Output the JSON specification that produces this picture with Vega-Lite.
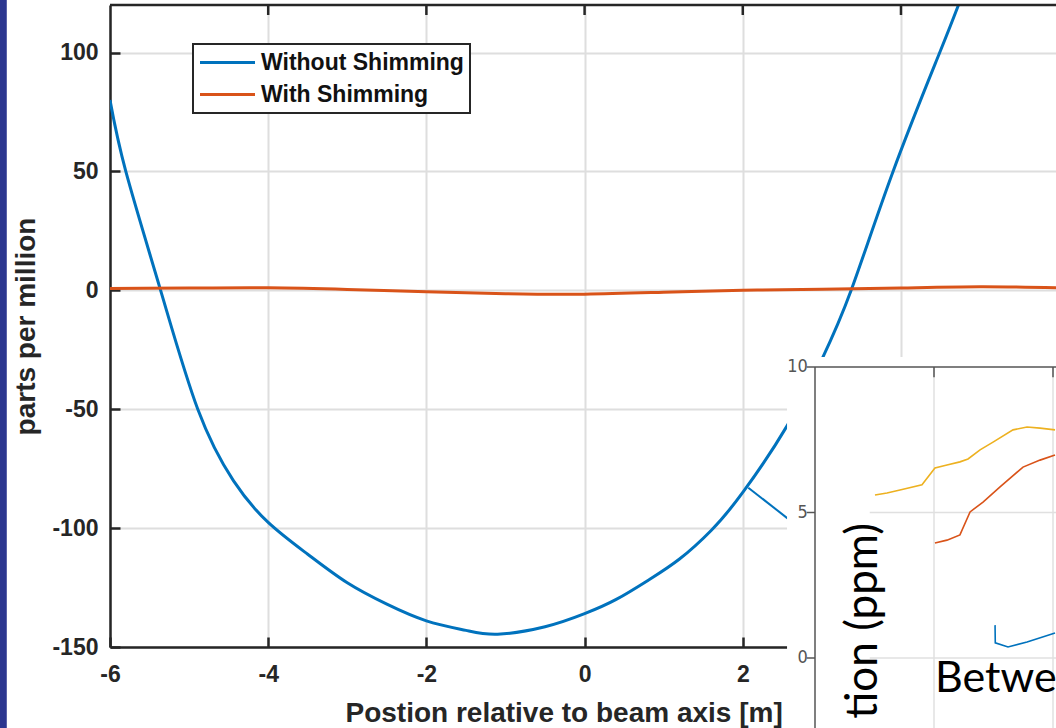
{
  "$schema": "https://vega.github.io/schema/vega-lite/v6.json",
  "width": 946,
  "height": 642,
  "autosize": {"type": "none"},
  "padding": {"left": 110, "top": 5, "right": 0, "bottom": 81},
  "background": "white",
  "config": {
    "view": {"stroke": null},
    "axis": {
      "labelFont": "Liberation Sans",
      "labelFontWeight": "bold",
      "labelFontSize": 23,
      "labelColor": "#262626",
      "labelExpr": "'' + datum.value",
      "titleFont": "Liberation Sans",
      "titleFontWeight": "bold",
      "titleFontSize": 28,
      "titleColor": "#262626",
      "domainColor": "#262626",
      "domainWidth": 2.5,
      "tickColor": "#262626",
      "tickWidth": 2.5,
      "tickSize": -10,
      "gridColor": "#dedede",
      "gridWidth": 2,
      "labelFlush": false,
      "labelOverlap": false
    },
    "legend": {
      "orient": "none",
      "legendX": 83,
      "legendY": 39,
      "strokeColor": "#262626",
      "strokeWidth": 2,
      "fillColor": "white",
      "padding": 6,
      "symbolType": "M-2.5,0H2.5",
      "symbolSize": 484,
      "symbolOffset": 16,
      "symbolStrokeWidth": 3,
      "labelFont": "Liberation Sans",
      "labelFontWeight": "bold",
      "labelFontSize": 23,
      "labelColor": "#111111",
      "labelOffset": 21,
      "labelLimit": 0,
      "rowPadding": 7
    }
  },
  "datasets": {
    "main": [
      {"x": -6, "ppm": 80, "series": "Without Shimming"},
      {"x": -5.8, "ppm": 50, "series": "Without Shimming"},
      {"x": -5.36, "ppm": 0, "series": "Without Shimming"},
      {"x": -4.89, "ppm": -50, "series": "Without Shimming"},
      {"x": -4.44, "ppm": -80, "series": "Without Shimming"},
      {"x": -4, "ppm": -97.6, "series": "Without Shimming"},
      {"x": -3.5, "ppm": -111, "series": "Without Shimming"},
      {"x": -3, "ppm": -123, "series": "Without Shimming"},
      {"x": -2.5, "ppm": -132, "series": "Without Shimming"},
      {"x": -2, "ppm": -139, "series": "Without Shimming"},
      {"x": -1.5, "ppm": -143, "series": "Without Shimming"},
      {"x": -1.1, "ppm": -144.6, "series": "Without Shimming"},
      {"x": -0.5, "ppm": -141.5, "series": "Without Shimming"},
      {"x": 0, "ppm": -136, "series": "Without Shimming"},
      {"x": 0.4, "ppm": -130, "series": "Without Shimming"},
      {"x": 0.82, "ppm": -121.6, "series": "Without Shimming"},
      {"x": 1.2, "ppm": -113, "series": "Without Shimming"},
      {"x": 1.6, "ppm": -101, "series": "Without Shimming"},
      {"x": 2, "ppm": -85, "series": "Without Shimming"},
      {"x": 2.56, "ppm": -57, "series": "Without Shimming"},
      {"x": 3.0, "ppm": -29, "series": "Without Shimming"},
      {"x": 3.37, "ppm": 0, "series": "Without Shimming"},
      {"x": 3.9, "ppm": 50, "series": "Without Shimming"},
      {"x": 4.49, "ppm": 100, "series": "Without Shimming"},
      {"x": 4.75, "ppm": 122, "series": "Without Shimming"},
      {"x": -6, "ppm": 0.8, "series": "With Shimming"},
      {"x": -5, "ppm": 1.0, "series": "With Shimming"},
      {"x": -4, "ppm": 1.1, "series": "With Shimming"},
      {"x": -3, "ppm": 0.4, "series": "With Shimming"},
      {"x": -2, "ppm": -0.6, "series": "With Shimming"},
      {"x": -1, "ppm": -1.4, "series": "With Shimming"},
      {"x": 0, "ppm": -1.6, "series": "With Shimming"},
      {"x": 1, "ppm": -0.8, "series": "With Shimming"},
      {"x": 2, "ppm": 0, "series": "With Shimming"},
      {"x": 3, "ppm": 0.5, "series": "With Shimming"},
      {"x": 4, "ppm": 1.0, "series": "With Shimming"},
      {"x": 5, "ppm": 1.5, "series": "With Shimming"},
      {"x": 5.96, "ppm": 1.1, "series": "With Shimming"}
    ],
    "xticks": [{"x": -4}, {"x": -2}, {"x": 0}, {"x": 2}, {"x": 4}],
    "connector": [{"x": 2.07, "ppm": -83}, {"x": 2.57, "ppm": -96}],
    "inset": [
      {"u": 0.504, "v": 5.60, "series": "yellow", "o": 1},
      {"u": 0.605, "v": 5.67, "series": "yellow", "o": 2},
      {"u": 0.714, "v": 5.77, "series": "yellow", "o": 3},
      {"u": 0.899, "v": 5.95, "series": "yellow", "o": 4},
      {"u": 1.008, "v": 6.53, "series": "yellow", "o": 5},
      {"u": 1.109, "v": 6.63, "series": "yellow", "o": 6},
      {"u": 1.218, "v": 6.74, "series": "yellow", "o": 7},
      {"u": 1.286, "v": 6.84, "series": "yellow", "o": 8},
      {"u": 1.387, "v": 7.15, "series": "yellow", "o": 9},
      {"u": 1.496, "v": 7.42, "series": "yellow", "o": 10},
      {"u": 1.664, "v": 7.84, "series": "yellow", "o": 11},
      {"u": 1.782, "v": 7.94, "series": "yellow", "o": 12},
      {"u": 1.891, "v": 7.90, "series": "yellow", "o": 13},
      {"u": 2.017, "v": 7.84, "series": "yellow", "o": 14},
      {"u": 1.008, "v": 3.95, "series": "orange", "o": 1},
      {"u": 1.109, "v": 4.05, "series": "orange", "o": 2},
      {"u": 1.218, "v": 4.23, "series": "orange", "o": 3},
      {"u": 1.303, "v": 5.02, "series": "orange", "o": 4},
      {"u": 1.412, "v": 5.36, "series": "orange", "o": 5},
      {"u": 1.555, "v": 5.88, "series": "orange", "o": 6},
      {"u": 1.748, "v": 6.56, "series": "orange", "o": 7},
      {"u": 1.891, "v": 6.80, "series": "orange", "o": 8},
      {"u": 2.017, "v": 6.98, "series": "orange", "o": 9},
      {"u": 1.513, "v": 1.13, "series": "blue", "o": 1},
      {"u": 1.515, "v": 0.52, "series": "blue", "o": 2},
      {"u": 1.622, "v": 0.38, "series": "blue", "o": 3},
      {"u": 1.782, "v": 0.55, "series": "blue", "o": 4},
      {"u": 2.017, "v": 0.86, "series": "blue", "o": 5}
    ],
    "insetTicks": [{"v": 0, "label": "0"}, {"v": 5, "label": "5"}, {"v": 10, "label": "10"}],
    "insetXTicks": [{"u": 1}, {"u": 2}]
  },
  "layer": [
    {
      "layer": [
        {
          "data": {"values": [{}]},
          "mark": {"type": "rect", "fill": "#2B368F"},
          "encoding": {
            "x": {"datum": -7.6, "type": "quantitative"},
            "x2": {"datum": -7.305},
            "y": {"datum": -260, "type": "quantitative"},
            "y2": {"datum": 200}
          }
        },
        {
          "data": {"name": "main"},
          "mark": {"type": "line", "strokeWidth": 3, "clip": true, "interpolate": "natural"},
          "encoding": {
            "x": {
              "field": "x", "type": "quantitative",
              "scale": {"domain": [-6, 5.96], "nice": false, "zero": false},
              "axis": {
                "values": [-6, -4, -2, 0, 2, 4],
                "grid": true,
                "labelPadding": 26,
                "title": "Postion relative to beam axis [m]",
                "titleAlign": "left",
                "titleBaseline": "top",
                "titleAnchor": "start",
                "titleX": 235,
                "titleY": 52
              }
            },
            "y": {
              "field": "ppm", "type": "quantitative",
              "scale": {"domain": [-150, 120], "nice": false, "zero": false},
              "axis": {
                "values": [-150, -100, -50, 0, 50, 100],
                "grid": true,
                "labelPadding": 22,
                "title": "parts per million",
                "titleX": -70,
                "titleBaseline": "bottom"
              }
            },
            "color": {
              "field": "series", "type": "nominal",
              "scale": {"domain": ["Without Shimming", "With Shimming"], "range": ["#0072BD", "#D95319"]},
              "legend": {"title": null}
            }
          }
        },
        {
          "data": {"values": [{}]},
          "mark": {"type": "rule", "stroke": "#262626", "strokeWidth": 2.5},
          "encoding": {
            "x": {"datum": -6, "type": "quantitative"},
            "x2": {"datum": 5.96},
            "y": {"datum": 120, "type": "quantitative"}
          }
        },
        {
          "data": {"name": "xticks"},
          "mark": {"type": "rule", "stroke": "#262626", "strokeWidth": 2.5},
          "encoding": {
            "x": {"field": "x", "type": "quantitative"},
            "y": {"datum": 120, "type": "quantitative"},
            "y2": {"datum": 115.8}
          }
        },
        {
          "data": {"name": "connector"},
          "mark": {"type": "line", "stroke": "#0072BD", "strokeWidth": 2},
          "encoding": {
            "x": {"field": "x", "type": "quantitative"},
            "y": {"field": "ppm", "type": "quantitative"}
          }
        }
      ]
    },
    {
      "layer": [
        {
          "data": {"values": [{}]},
          "mark": {"type": "rect", "fill": "white"},
          "encoding": {
            "x": {"datum": -0.235, "type": "quantitative", "axis": null,
              "scale": {"domain": [-5.9244, 2.0252], "nice": false, "zero": false}},
            "x2": {"datum": 2.2},
            "y": {"datum": 10.34, "type": "quantitative", "axis": null,
              "scale": {"domain": [0.378, 22.44], "nice": false, "zero": false}},
            "y2": {"datum": -2.6}
          }
        },
        {
          "data": {"name": "insetTicks"},
          "transform": [{"filter": "datum.v < 10"}],
          "mark": {"type": "rule", "stroke": "#e0e0e0", "strokeWidth": 1.5},
          "encoding": {
            "x": {"datum": 0.46, "type": "quantitative"},
            "x2": {"datum": 2.2},
            "y": {"field": "v", "type": "quantitative"}
          }
        },
        {
          "data": {"name": "insetXTicks"},
          "mark": {"type": "rule", "stroke": "#e0e0e0", "strokeWidth": 1.5},
          "encoding": {
            "x": {"field": "u", "type": "quantitative"},
            "y": {"datum": 10, "type": "quantitative"},
            "y2": {"datum": -2.6}
          }
        },
        {
          "data": {"values": [{}]},
          "mark": {"type": "rule", "stroke": "#555555", "strokeWidth": 1.5},
          "encoding": {
            "x": {"datum": 0, "type": "quantitative"},
            "y": {"datum": 10, "type": "quantitative"},
            "y2": {"datum": -2.6}
          }
        },
        {
          "data": {"values": [{}]},
          "mark": {"type": "rule", "stroke": "#555555", "strokeWidth": 1.5},
          "encoding": {
            "x": {"datum": 0, "type": "quantitative"},
            "x2": {"datum": 2.2},
            "y": {"datum": 10, "type": "quantitative"}
          }
        },
        {
          "data": {"name": "insetTicks"},
          "mark": {"type": "rule", "stroke": "#555555", "strokeWidth": 1.5},
          "encoding": {
            "x": {"datum": -0.07, "type": "quantitative"},
            "x2": {"datum": 0},
            "y": {"field": "v", "type": "quantitative"}
          }
        },
        {
          "data": {"name": "insetXTicks"},
          "mark": {"type": "rule", "stroke": "#555555", "strokeWidth": 1.5},
          "encoding": {
            "x": {"field": "u", "type": "quantitative"},
            "y": {"datum": 10, "type": "quantitative"},
            "y2": {"datum": 9.65}
          }
        },
        {
          "data": {"name": "insetTicks"},
          "mark": {"type": "text", "align": "right", "baseline": "middle", "font": "Liberation Sans Narrow, DejaVu Sans Condensed, Liberation Sans", "fontSize": 18, "fill": "#555555"},
          "encoding": {
            "x": {"datum": -0.06, "type": "quantitative"},
            "y": {"field": "v", "type": "quantitative"},
            "text": {"field": "label"}
          }
        },
        {
          "data": {"name": "inset"},
          "mark": {"type": "line", "strokeWidth": 1.6},
          "encoding": {
            "x": {"field": "u", "type": "quantitative"},
            "y": {"field": "v", "type": "quantitative"},
            "order": {"field": "o"},
            "color": {
              "field": "series", "type": "nominal",
              "scale": {"domain": ["yellow", "orange", "blue"], "range": ["#EDB120", "#D95319", "#0072BD"]},
              "legend": null
            }
          }
        },
        {
          "data": {"values": [{"t": "tion (ppm)"}]},
          "mark": {"type": "text", "angle": 270, "align": "right", "baseline": "alphabetic", "font": "Lato", "fontSize": 44, "fill": "black"},
          "encoding": {
            "x": {"datum": 0.52, "type": "quantitative"},
            "y": {"datum": 4.64, "type": "quantitative"},
            "text": {"field": "t"}
          }
        },
        {
          "data": {"values": [{"t": "Betwe"}]},
          "mark": {"type": "text", "align": "left", "baseline": "alphabetic", "font": "Lato", "fontSize": 43, "fill": "black"},
          "encoding": {
            "x": {"datum": 1.008, "type": "quantitative"},
            "y": {"datum": -1.17, "type": "quantitative"},
            "text": {"field": "t"}
          }
        }
      ]
    }
  ],
  "resolve": {"scale": {"x": "independent", "y": "independent", "color": "independent"}}
}
